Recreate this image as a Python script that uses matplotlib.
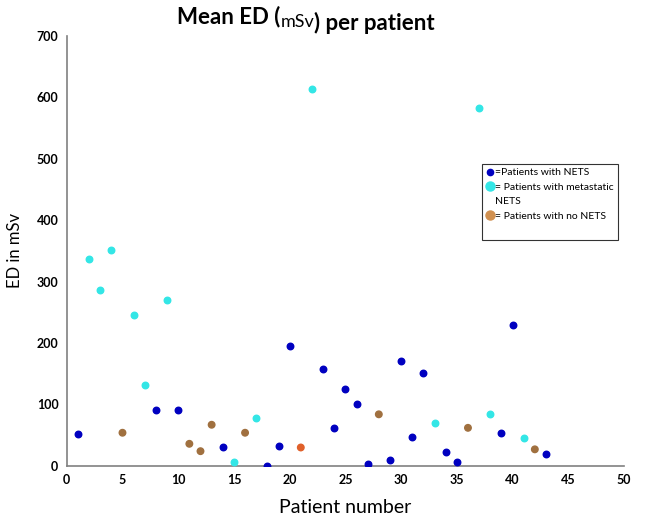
import matplotlib.pyplot as plt
from matplotlib.lines import Line2D

plt.rcParams['font.family'] = ['Lato', 'DejaVu Sans']

# patients with NETS
nets_x = [1, 8, 10, 14, 18, 19, 20, 23, 24, 25, 26, 27, 29, 30, 31, 32, 34, 35, 39, 40, 43]
nets_y = [52, 91, 91, 30, 0, 32, 195, 157, 62, 125, 101, 3, 10, 170, 47, 151, 23, 6, 53, 229, 20]

# patients with metastatic NETS
meta_x = [2, 3, 4, 6, 7, 9, 15, 17, 22, 33, 37, 38, 41]
meta_y = [337, 287, 351, 246, 131, 270, 7, 78, 614, 70, 583, 84, 46]

# patients with no NETS
none_x = [5, 11, 12, 13, 16, 21, 28, 36, 42]
none_y = [54, 36, 24, 67, 54, 30, 84, 62, 27]
none_colors = ['#A0703F'] * 5 + ['#E0602A'] + ['#A0703F'] * 3

fig = plt.figure(figsize=(6.61, 5.2), dpi=100)
ax = fig.add_axes([0.101, 0.104, 0.843, 0.827])

ax.scatter(nets_x, nets_y, s=22, color='#0000C0', zorder=3)
ax.scatter(meta_x, meta_y, s=22, color='#33E6E6', zorder=3)
ax.scatter(none_x, none_y, s=22, color=none_colors, zorder=3)

ax.set_xlim(0, 50)
ax.set_ylim(0, 700)
ax.set_xticks(range(0, 51, 5))
ax.set_yticks(range(0, 701, 100))
ax.tick_params(length=0, labelsize=9, pad=6)
for lab in ax.get_xticklabels() + ax.get_yticklabels():
    lab.set_fontweight('bold')
for s in ['top', 'right']:
    ax.spines[s].set_visible(False)
for s in ['left', 'bottom']:
    ax.spines[s].set_color('#808080')
    ax.spines[s].set_linewidth(1.2)

ax.set_xlabel('Patient number', fontsize=14, labelpad=9)
ax.set_ylabel('ED in mSv', fontsize=12, labelpad=10)

# legend
h1 = Line2D([], [], ls='', marker='o', ms=4.5, color='#0000C0')
h2 = Line2D([], [], ls='', marker='o', ms=6.5, color='#33E6E6')
h3 = Line2D([], [], ls='', marker='o', ms=6.5, color='#D09050')
hb = Line2D([], [], ls='', marker='')
leg = ax.legend([h1, h2, hb, h3, hb],
                ['=Patients with NETS', '= Patients with metastatic', 'NETS',
                 '= Patients with no NETS', ' '],
                loc='upper left', bbox_to_anchor=(0.745, 0.702), fontsize=7.5,
                frameon=True, fancybox=False, edgecolor='black', handletextpad=0.2,
                handlelength=0.7, borderaxespad=0, borderpad=0.4, labelspacing=0.5)
leg.get_frame().set_linewidth(0.8)

# title with mixed weight
t1 = fig.text(0.268, 0.955, 'Mean ED (', fontsize=16, fontweight='bold', va='baseline')
t2 = ax.annotate('mSv', xy=(1, 0), xycoords=t1, fontsize=13, va='baseline', ha='left')
t3 = ax.annotate(') per patient', xy=(1, 0), xycoords=t2, fontsize=16, fontweight='bold',
                 va='baseline', ha='left')

fig.savefig('out.png', dpi=100)
